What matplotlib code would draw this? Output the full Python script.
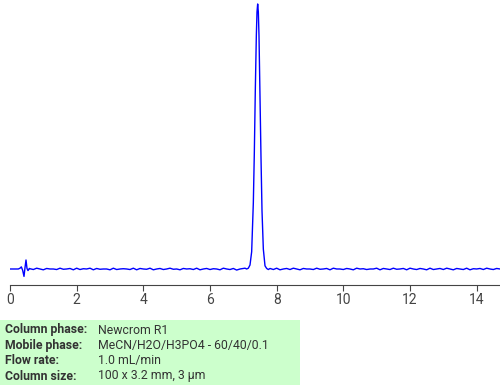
import matplotlib
matplotlib.use("Agg")
import matplotlib.pyplot as plt
from matplotlib.patches import Rectangle
import numpy as np

# Chromatogram data (time in min, signal in % of main peak height)
disturb_t = [0.00, 0.25, 0.30, 0.34, 0.38, 0.42, 0.45, 0.48, 0.51, 0.54, 0.58]
disturb_y = [0.0, 0.0, 0.3, 0.8, -0.5, -2.8, 0.5, 3.4, 0.2, -0.6, 0.2]

base_t = [round(0.6 + 0.1 * i, 2) for i in range(64)]
base_y = [0.1, -0.2, 0.3, 0.0, -0.3, 0.2, 0.0, 0.0, -0.2, 0.3,
          -0.1, 0.0, 0.2, -0.3, 0.3, -0.2, 0.1, 0.0, 0.3, -0.3,
          0.2, -0.1, 0.0, 0.0, -0.3, 0.3, -0.2, 0.0, 0.1, 0.0,
          -0.2, 0.3, -0.3, 0.2, 0.0, -0.1, 0.3, -0.3, 0.0, 0.2,
          -0.2, 0.0, 0.3, -0.1, 0.0, -0.3, 0.2, 0.0, 0.1, -0.2,
          0.3, -0.3, 0.0, 0.2, -0.2, 0.1, 0.0, -0.3, 0.3, 0.0,
          -0.2, 0.2, -0.4, 0.0]

peak_t = [7.05, 7.10, 7.15, 7.20, 7.25, 7.30, 7.33, 7.36, 7.39, 7.41, 7.43,
          7.45, 7.47, 7.50, 7.53, 7.56, 7.60, 7.65, 7.70, 7.75]
peak_y = [0.3, 0.0, 0.3, 1.5, 6.5, 25.0, 44.0, 68.0, 88.0, 97.0, 100.0,
          97.0, 88.0, 65.0, 42.0, 22.0, 7.5, 1.2, 0.2, -0.2]

tail_t = [round(7.8 + 0.1 * i, 2) for i in range(70)]
tail_y = [0.2, -0.2, 0.3, -0.3, 0.0, 0.2, -0.2, 0.3, 0.0, -0.3,
          0.2, 0.0, 0.0, -0.2, 0.3, -0.1, 0.0, 0.2, -0.3, 0.3,
          0.0, 0.0, -0.2, 0.2, 0.0, -0.3, 0.3, 0.0, 0.1, -0.2,
          0.0, 0.0, 0.3, -0.3, 0.2, 0.0, -0.2, 0.3, -0.1, 0.0,
          0.2, -0.3, 0.3, 0.0, -0.2, 0.2, 0.0, -0.3, 0.3, -0.2,
          0.0, 0.2, -0.2, 0.3, 0.0, -0.3, 0.2, 0.0, -0.2, 0.3,
          -0.3, 0.1, 0.0, 0.2, -0.2, 0.3, 0.0, -0.2, 0.2, 0.0]

xticks = [0, 2, 4, 6, 8, 10, 12, 14]

info_labels = ["Column phase:", "Mobile phase:", "Flow rate:", "Column size:"]
info_values = ["Newcrom R1", "MeCN/H2O/H3PO4 - 60/40/0.1", "1.0 mL/min",
               "100 x 3.2 mm, 3 \u00b5m"]

t = disturb_t + base_t + peak_t + tail_t
y = disturb_y + base_y + peak_y + tail_y

plt.rcParams['font.family'] = ['Roboto', 'DejaVu Sans']

W, H = 500, 385
fig = plt.figure(figsize=(W / 100, H / 100), dpi=100)
ax = fig.add_axes([10 / W, 1 - 285 / H, 1 - 10 / W, 285 / H])
ax.plot(t, y, color="#0000ff", lw=1.0)
ax.set_xlim(0, 14.7)
ax.set_ylim(-6.04, 101.5)
for s in ["left", "right", "top"]:
    ax.spines[s].set_visible(False)
ax.spines["bottom"].set_color("#444444")
ax.spines["bottom"].set_linewidth(0.8)
ax.set_yticks([])
ax.set_xticks(xticks)
ax.set_xticklabels([str(v) for v in xticks])
ax.tick_params(axis="x", length=4, width=0.8, color="#444444",
               labelcolor="#444444", labelsize=10, pad=2)

# info box
fig.patches.append(Rectangle((0, 0), 300 / W, 65 / H, transform=fig.transFigure,
                             facecolor="#ccffcc", edgecolor="none", zorder=0))
ys = [330, 345.5, 360.5, 376]
for lab, val, yy in zip(info_labels, info_values, ys):
    fig.text(5 / W, 1 - yy / H, lab, fontsize=8.8, fontweight="bold",
             color="#333333", va="center", ha="left")
    fig.text(98 / W, 1 - yy / H, val, fontsize=8.8, color="#333333",
             va="center", ha="left")

fig.savefig("out.png", dpi=100)
